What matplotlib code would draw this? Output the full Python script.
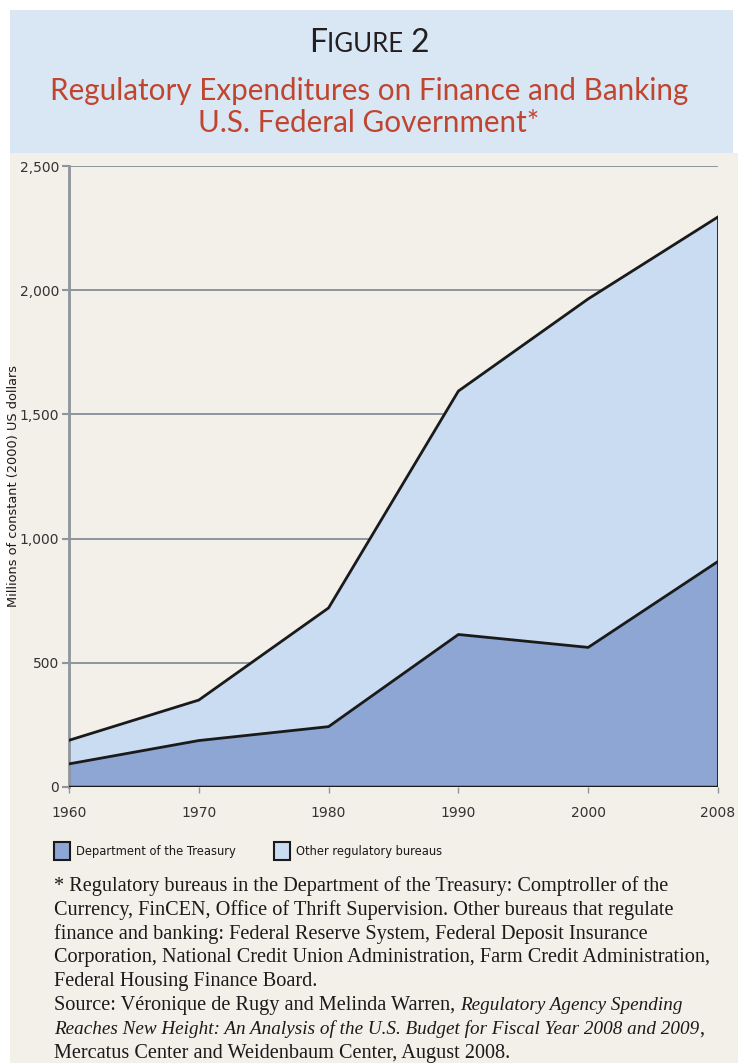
import matplotlib
matplotlib.use("Agg")
import matplotlib.pyplot as plt
from matplotlib.patches import Rectangle

# data (millions of constant 2000 US dollars)
years = ["1960", "1970", "1980", "1990", "2000", "2008"]
treasury = [93, 187, 243, 614, 562, 908]
total = [188, 350, 721, 1594, 1965, 2295]
other = [t - d for t, d in zip(total, treasury)]

y_ticks = [0, 500, 1000, 1500, 2000, 2500]
y_ticklabels = ["0", "500", "1,000", "1,500", "2,000", "2,500"]

c_header = "#d9e7f4"
c_bg = "#f3efe9"
c_title = "#c0452f"
c_treasury = "#8ea6d4"
c_other = "#c9dcf1"
c_grid = "#8f959c"
c_ink = "#1a1a1a"

W, H = 738, 1063
fig = plt.figure(figsize=(W / 100, H / 100), dpi=100)
fig.patch.set_facecolor("white")

# background panels in an axes of their own, behind everything
bg = fig.add_axes([0, 0, 1, 1], zorder=-5)
bg.set_xlim(0, W)
bg.set_ylim(H, 0)
bg.axis("off")
bg.add_patch(Rectangle((10, 153), 728, H - 153, facecolor=c_bg, edgecolor="none"))
bg.add_patch(Rectangle((10, 10), 723, 143, facecolor=c_header, edgecolor="none"))

# "FIGURE 2" in small caps
t1 = fig.text(317 / W, 1 - 52 / H, "F", fontsize=23, family="Lato", color="#231f20")
t2 = fig.text(0, 0, "IGURE ", fontsize=18.5, family="Lato", color="#231f20")
t3 = fig.text(0, 0, "2", fontsize=23, family="Lato", color="#231f20")
fig.canvas.draw()
r = fig.canvas.get_renderer()
bb1 = t1.get_window_extent(r)
t2.set_position((bb1.x1 / W, 1 - 52 / H))
bb2 = t2.get_window_extent(r)
t3.set_position((bb2.x1 / W, 1 - 52 / H))
bb3 = t3.get_window_extent(r)
shift = ((bb1.x0 + bb3.x1) / 2 - W / 2) / W
for t in (t1, t2, t3):
    x, y = t.get_position()
    t.set_position((x - shift, y))

fig.text(0.5, 1 - 91 / H, "Regulatory Expenditures on Finance and Banking",
         ha="center", va="center", fontsize=21.3, family="Lato", color=c_title)
fig.text(0.5, 1 - 123 / H, "U.S. Federal Government*",
         ha="center", va="center", fontsize=21.3, family="Lato", color=c_title)

ax = fig.add_axes([69 / W, 1 - 787 / H, (718 - 69) / W, (787 - 166) / H], zorder=2)
ax.set_facecolor("none")
x = list(range(len(years)))
ax.stackplot(x, treasury, other, colors=[c_treasury, c_other], edgecolor="none", zorder=2)
ax.plot(x, treasury, color=c_ink, lw=2, zorder=3)
ax.plot(x, total, color=c_ink, lw=2, zorder=3)
ax.plot([x[-1], x[-1]], [0, total[-1]], color=c_ink, lw=2, zorder=3)
ax.plot([x[0], x[-1]], [0, 0], color=c_ink, lw=2.5, zorder=3)

ax.set_xlim(0, len(years) - 1)
ax.set_ylim(0, 2500)
ax.set_yticks(y_ticks)
ax.set_yticklabels(y_ticklabels)
ax.set_xticks(x)
ax.set_xticklabels(years)
ax.grid(axis="y", color=c_grid, lw=1.4, zorder=1)
ax.set_axisbelow(True)
for s in ("top", "right", "bottom"):
    ax.spines[s].set_visible(False)
ax.spines["left"].set_color(c_grid)
ax.spines["left"].set_linewidth(2)
ax.tick_params(axis="y", length=5, width=1.5, color=c_grid, pad=2, labelsize=10, labelcolor="#333333")
ax.tick_params(axis="x", length=4, width=1, color=c_grid, pad=10, labelsize=10, labelcolor="#333333")
for lab in ax.get_xticklabels() + ax.get_yticklabels():
    lab.set_family("DejaVu Sans")

fig.text(14 / W, 1 - 486 / H, "Millions of constant (2000) US dollars", rotation=90,
         ha="center", va="center", fontsize=9.3, family="DejaVu Sans", color=c_ink)

# legend
for px, lab, col in [(54, "Department of the Treasury", c_treasury), (274, "Other regulatory bureaus", c_other)]:
    bg.add_patch(Rectangle((px, 842), 16, 18, facecolor=col, edgecolor=c_ink, lw=1.5))
    fig.text((px + 22) / W, 1 - 852 / H, lab, fontsize=8.3, family="DejaVu Sans", va="center",
             color=c_ink)

# footnote, positioned by baseline
fs = 14.6
fs_it = 13.8
note_lines = [
    "* Regulatory bureaus in the Department of the Treasury: Comptroller of the",
    "Currency, FinCEN, Office of Thrift Supervision. Other bureaus that regulate",
    "finance and banking: Federal Reserve System, Federal Deposit Insurance",
    "Corporation, National Credit Union Administration, Farm Credit Administration,",
    "Federal Housing Finance Board.",
]


def base(i):
    return 1 - (891 + 23.8 * i) / H


for i, line in enumerate(note_lines):
    fig.text(54 / W, base(i), line, fontsize=fs, family="Liberation Serif",
             va="baseline", color=c_ink)

src = fig.text(54 / W, base(5), "Source: Véronique de Rugy and Melinda Warren, ", fontsize=fs,
               family="Liberation Serif", va="baseline", color=c_ink)
ital = fig.text(54 / W, base(6),
                "Reaches New Height: An Analysis of the U.S. Budget for Fiscal Year 2008 and 2009",
                fontsize=fs_it, family="Liberation Serif", style="italic", va="baseline", color=c_ink)
fig.canvas.draw()
r = fig.canvas.get_renderer()
bb = src.get_window_extent(r)
fig.text(bb.x1 / W, base(5), "Regulatory Agency Spending", fontsize=fs_it, family="Liberation Serif",
         style="italic", va="baseline", color=c_ink)
bb = ital.get_window_extent(r)
fig.text(bb.x1 / W, base(6), ",", fontsize=fs, family="Liberation Serif", va="baseline", color=c_ink)
fig.text(54 / W, base(7), "Mercatus Center and Weidenbaum Center, August 2008.",
         fontsize=fs, family="Liberation Serif", va="baseline", color=c_ink)

fig.savefig("out.png", dpi=100, facecolor=fig.get_facecolor())
